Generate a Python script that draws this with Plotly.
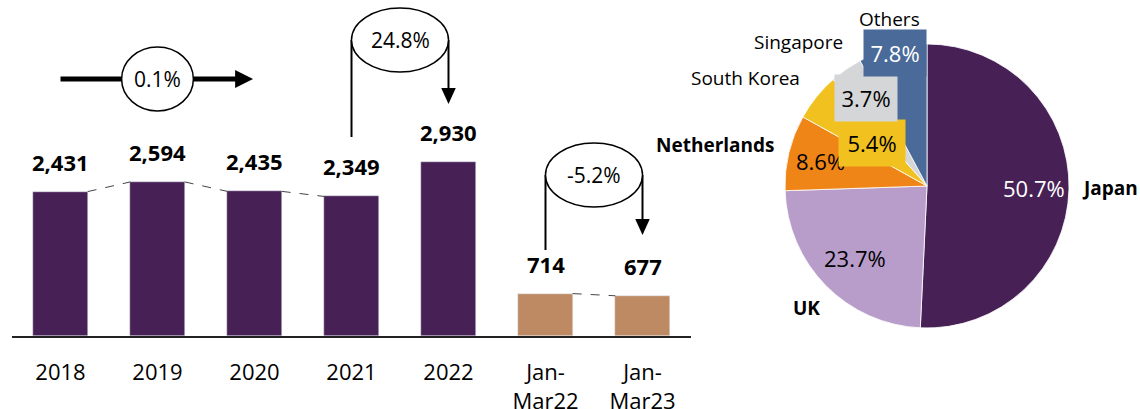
import plotly.graph_objects as go

# data
anos = ["2018", "2019", "2020", "2021", "2022", "Jan-<br>Mar22", "Jan-<br>Mar23"]
valores = [2431, 2594, 2435, 2349, 2930, 714, 677]
rotulos = ["2,431", "2,594", "2,435", "2,349", "2,930", "714", "677"]
cores_barras = ["#472055"] * 5 + ["#BE8A63"] * 2

paises = ["Japan", "UK", "Netherlands", "South Korea", "Singapore", "Others"]
participacao = [50.7, 23.7, 8.6, 5.4, 3.7, 7.8]
cores_pizza = ["#472055", "#B89DCA", "#EE8516", "#F1C11F", "#D5D6D8", "#4A6B9A"]

variacoes = ["0.1%", "24.8%", "-5.2%"]

W, H, B = 1140, 409, 73
PH = H - B
FONTE = "Open Sans"


def px(x):
    return x / W


def py(y):
    return (PH - y) / PH


fig = go.Figure()

fig.add_trace(go.Bar(
    x=list(range(len(anos))), y=valores, marker_color=cores_barras,
    width=0.56, showlegend=False, hoverinfo="skip",
))

# linhas tracejadas entre barras
for a, b in [(0, 1), (1, 2), (2, 3), (5, 6)]:
    fig.add_trace(go.Scatter(
        x=[a + 0.28, b - 0.28], y=[valores[a], valores[b]], mode="lines",
        line=dict(color="#444", width=1, dash="dash"), showlegend=False, hoverinfo="skip",
    ))

fig.add_trace(go.Pie(
    labels=paises, values=participacao, sort=False, direction="clockwise", rotation=0,
    marker=dict(colors=cores_pizza, line=dict(color="white", width=0.8)),
    textinfo="none", showlegend=False, hoverinfo="skip",
    domain=dict(x=[px(785), px(1069)], y=[py(328), py(44)]),
))

anots = []


def texto(x, y, t, size, cor="black", xref="paper", yref="paper", **kw):
    d = dict(x=x, y=y, xref=xref, yref=yref, text=t, showarrow=False,
             xanchor="center", yanchor="middle", font=dict(size=size, color=cor))
    d.update(kw)
    anots.append(d)


for i, (v, t) in enumerate(zip(valores, rotulos)):
    texto(i, v, "<b>%s</b>" % t, 22, xref="x", yref="y", yshift=30)

shapes = []
linha = dict(color="black", width=2)

# 0.1% seta horizontal
shapes.append(dict(type="line", xref="x", yref="paper", x0=0, x1=1.85, y0=py(79), y1=py(79),
                   line=dict(color="black", width=5)))
shapes.append(dict(type="path", xref="x", yref="paper",
                   path="M 1.80,%f L 1.985,%f L 1.80,%f Z" % (py(70), py(79), py(88)),
                   fillcolor="black", line=dict(width=0)))
shapes.append(dict(type="circle", xref="x", yref="paper", x0=1 - 0.37, x1=1 + 0.37,
                   y0=py(111), y1=py(47), fillcolor="white", line=dict(color="black", width=1.5)))
texto(1, py(79), variacoes[0], 21, xref="x")

# 24.8% e -5.2%
for xa, yc, ybase, ytip, txt in [(3, 40, 137, 104, variacoes[1]), (5, 175, 250, 235, variacoes[2])]:
    xb = xa + 1
    shapes.append(dict(type="line", xref="x", yref="paper", x0=xa, x1=xa, y0=py(ybase), y1=py(yc),
                       line=linha))
    shapes.append(dict(type="line", xref="x", yref="paper", x0=xb, x1=xb, y0=py(yc), y1=py(ytip - 12),
                       line=linha))
    shapes.append(dict(type="path", xref="x", yref="paper",
                       path="M %f,%f L %f,%f L %f,%f Z" % (xb - 0.075, py(ytip - 16), xb + 0.075,
                                                          py(ytip - 16), xb, py(ytip)),
                       fillcolor="black", line=dict(width=0)))
    shapes.append(dict(type="circle", xref="x", yref="paper", x0=xa, x1=xa + 1,
                       y0=py(yc + 32), y1=py(yc - 32), fillcolor="white",
                       line=dict(color="black", width=1.5)))
    texto(xa + 0.5, py(yc), txt, 21, xref="x")

# rótulos da pizza
pct = ["%.1f%%" % p for p in participacao]
dentro = [
    (1034, 188, pct[0], "white", None, None, None),
    (855, 258, pct[1], "black", None, None, None),
    (820, 161, pct[2], "black", None, None, None),
    (872, 143, pct[3], "black", cores_pizza[3], 64, 44),
    (866, 98, pct[4], "black", cores_pizza[4], 60, 44),
    (895, 53, pct[5], "white", cores_pizza[5], 60, 44),
]
for x, y, t, c, bg, w, h in dentro:
    extra = dict(bgcolor=bg, width=w, height=h) if bg else {}
    texto(px(x), py(y), t, 22, c, **extra)

fora = [
    (1110, 188, "<b>Japan</b>"),
    (806, 308, "<b>UK</b>"),
    (715, 145, "<b>Netherlands</b>"),
    (745, 78, "South Korea"),
    (798, 42, "Singapore"),
    (889, 19, "Others"),
]
for x, y, t in fora:
    texto(px(x), py(y), t, 19)

fig.update_layout(
    width=W, height=H, margin=dict(l=0, r=0, t=0, b=B),
    plot_bgcolor="white", paper_bgcolor="white",
    font=dict(family=FONTE, color="black"),
    xaxis=dict(domain=[px(12), px(691)], range=[-0.5, 6.5], tickvals=list(range(len(anos))),
               ticktext=anos, showline=True, linecolor="#222", linewidth=2, showgrid=False,
               zeroline=False, tickfont=dict(size=22, color="black"), ticks="",
               ticklabelstandoff=16, automargin=False),
    yaxis=dict(range=[0, PH / 0.0594], visible=False, showgrid=False),
    shapes=shapes, annotations=anots, bargap=0,
)

fig.write_html("out.html", config={"displayModeBar": False},
               post_script="document.body.style.margin='0';")
